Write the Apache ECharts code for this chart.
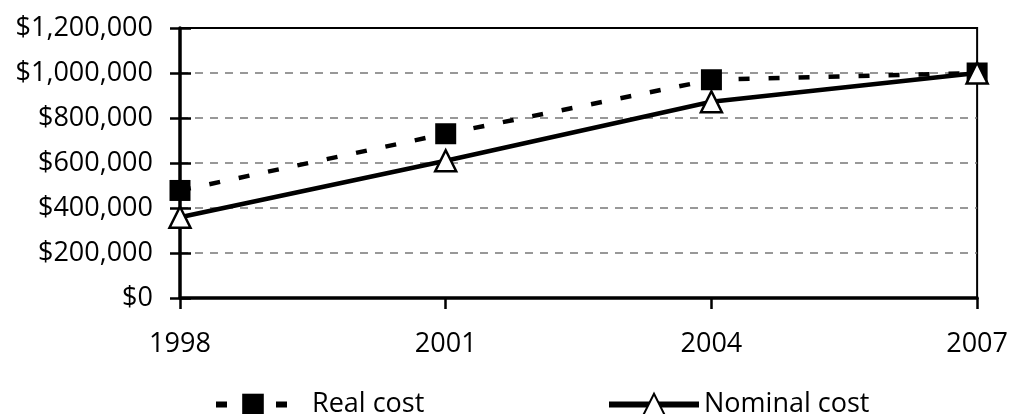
<!DOCTYPE html>
<html>
<head>
<meta charset="utf-8">
<style>
  html, body { margin: 0; padding: 0; background: #fff; }
  #chart { width: 1011px; height: 414px; }
</style>
<script src="https://cdn.jsdelivr.net/npm/echarts@6/dist/echarts.min.js"></script>
</head>
<body>
<div id="chart"></div>
<script>
// data
const years = ['1998', '2001', '2004', '2007']
const realCost = [478000, 730000, 970000, 1000000]
const nominalCost = [359000, 610000, 872000, 1000000]
const yMin = 0
const yMax = 1200000
const yStep = 200000

const font = '"Open Sans", "Noto Sans", sans-serif'

function money (v) {
  return '$' + String(v).replace(/\B(?=(\d{3})+(?!\d))/g, ',')
}

const chart = echarts.init(document.getElementById('chart'))

const option = {
  animation: false,
  textStyle: { fontFamily: font, color: '#000' },
  grid: {
    left: 180,
    right: 32,
    top: 28,
    bottom: 116,
    show: true,
    borderColor: '#000',
    borderWidth: 2,
    backgroundColor: 'transparent'
  },
  legend: [{
    data: ['Real cost'],
    left: 208,
    top: 386,
    itemWidth: 74,
    itemHeight: 27,
    lineStyle: { width: 6 },
    textStyle: { fontFamily: font, fontSize: 27, color: '#000', padding: [0, 0, 0, 17] }
  }, {
    data: ['Nominal cost'],
    left: 601,
    top: 386,
    itemWidth: 90,
    itemHeight: 27,
    lineStyle: { width: 6 },
    textStyle: { fontFamily: font, fontSize: 27, color: '#000' }
  }],
  xAxis: {
    type: 'category',
    boundaryGap: false,
    data: years,
    axisLine: { lineStyle: { color: '#000', width: 3.5 } },
    axisTick: { show: true, length: 11, lineStyle: { color: '#000', width: 2.5 } },
    axisLabel: { fontFamily: font, fontSize: 27, color: '#000', margin: 33 },
    splitLine: { show: false }
  },
  yAxis: [{
    type: 'value',
    min: yMin,
    max: yMax,
    interval: yStep,
    axisLine: { show: true, lineStyle: { color: '#000', width: 3.5 } },
    axisTick: { show: true, length: 10, lineStyle: { color: '#000', width: 2.5 } },
    axisLabel: { fontFamily: font, fontSize: 27, color: '#000', margin: 27, formatter: money },
    splitLine: {
      show: true,
      showMinLine: false,
      showMaxLine: false,
      lineStyle: { color: '#777', width: 1.5, type: [8, 7] }
    }
  }, {
    // inside half of the crossing ticks
    type: 'value',
    position: 'left',
    min: yMin,
    max: yMax,
    interval: yStep,
    axisLine: { show: false },
    axisTick: { show: true, inside: true, length: 11, lineStyle: { color: '#000', width: 2.5 } },
    axisLabel: { show: false },
    splitLine: { show: false }
  }],
  series: [{
    name: 'Real cost',
    type: 'line',
    data: realCost,
    symbol: 'rect',
    symbolSize: 21,
    lineStyle: { color: '#000', width: 4.5, type: [11, 19] },
    itemStyle: { color: '#000', borderColor: '#000', borderWidth: 0 }
  }, {
    name: 'Nominal cost',
    type: 'line',
    data: nominalCost,
    symbol: 'triangle',
    symbolSize: 21,
    lineStyle: { color: '#000', width: 4.5, type: 'solid' },
    itemStyle: { color: '#fff', borderColor: '#000', borderWidth: 2.5 }
  }]
}

chart.setOption(option)
</script>
</body>
</html>
